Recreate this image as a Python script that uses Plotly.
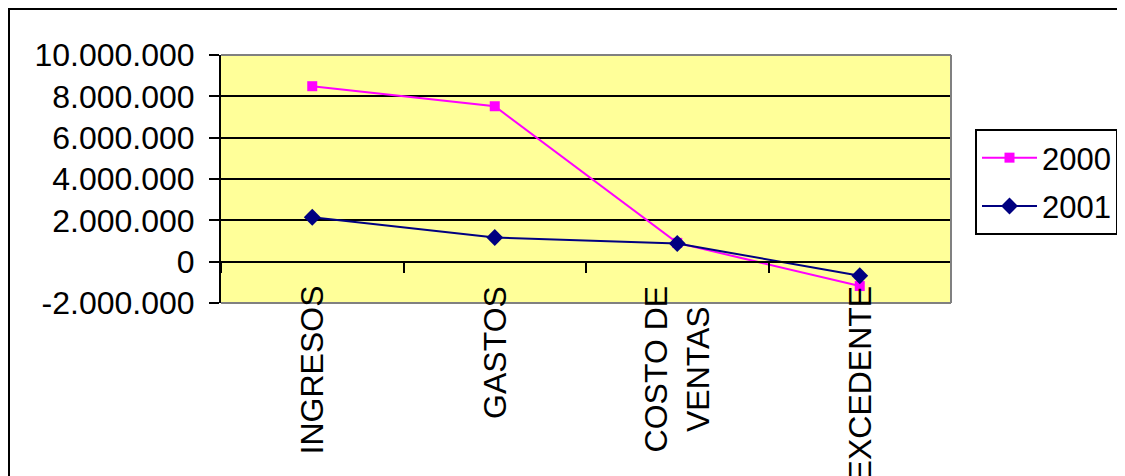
import plotly.graph_objects as go

categories = ["INGRESOS", "GASTOS", "COSTO DE VENTAS", "EXCEDENTE"]
category_labels = ["INGRESOS", "GASTOS", "COSTO DE<br>VENTAS", "EXCEDENTE"]
values_2000 = [8490000, 7520000, 910000, -1180000]
values_2001 = [2150000, 1170000, 880000, -680000]
y_tickvals = [-2000000, 0, 2000000, 4000000, 6000000, 8000000, 10000000]
y_ticktext = ["-2.000.000", "0", "2.000.000", "4.000.000", "6.000.000", "8.000.000", "10.000.000"]

OFF = 8  # page body margin
W, H = 1125 - OFF + 60, 476 - OFF
L, R, T, B = 221 - OFF, 951 - OFF, 55 - OFF, 303 - OFF
FONT = "Liberation Sans, Arial, sans-serif"

def px(x):
    return (x - OFF - L) / (R - L)

def py(y):
    return (B - (y - OFF)) / (B - T)

fig = go.Figure()
fig.add_trace(go.Scatter(
    x=categories, y=values_2000, name="2000", mode="lines+markers",
    line=dict(color="#FF00FF", width=2),
    marker=dict(symbol="square", size=10, color="#FF00FF"),
    legendgroup="a",
))
fig.add_trace(go.Scatter(
    x=categories, y=values_2001, name="2001", mode="lines+markers",
    line=dict(color="#000080", width=2),
    marker=dict(symbol="diamond", size=13, color="#000080"),
    legendgroup="b",
))

ymin, ymax = y_tickvals[0], y_tickvals[-1]
zero_pos = (0 - ymin) / (ymax - ymin)

fig.update_layout(
    width=W, height=H,
    margin=dict(l=L, r=W - R, t=T, b=H - B, pad=0, autoexpand=False),
    paper_bgcolor="white",
    plot_bgcolor="#FFFF99",
    font=dict(family=FONT, size=32, color="black"),
    showlegend=True,
    legend=dict(
        x=px(975), y=py(129), xanchor="left", yanchor="top",
        bordercolor="black", borderwidth=2, bgcolor="white",
        font=dict(family=FONT, size=31, color="black"),
        tracegroupgap=5, itemwidth=55, entrywidth=110, entrywidthmode="pixels",
    ),
    xaxis=dict(
        type="category", range=[-0.5, 3.5],
        anchor="free", position=zero_pos,
        showline=True, linecolor="black", linewidth=2,
        showgrid=False, zeroline=False,
        ticks="outside", tickson="boundaries", ticklen=10, tickwidth=2, tickcolor="black",
        showticklabels=False,
    ),
    yaxis=dict(
        range=[ymin, ymax],
        tickvals=y_tickvals, ticktext=y_ticktext,
        showline=True, linecolor="black", linewidth=2,
        showgrid=True, gridcolor="black", gridwidth=2,
        zeroline=False,
        ticks="outside", ticklen=10, tickwidth=2, tickcolor="black",
        ticklabelstandoff=8,
        tickfont=dict(family=FONT, size=32, color="black"),
    ),
)

for c, lab in zip(categories, category_labels):
    fig.add_annotation(
        x=c, y=0, xref="x", yref="y", text=lab, showarrow=False,
        textangle=-90, xanchor="center", yanchor="top", yshift=-22,
        align="center", font=dict(family=FONT, size=32, color="black"),
    )

grey = dict(color="#808080", width=2)
fig.add_shape(type="line", xref="paper", yref="paper", x0=0, x1=1, y0=1, y1=1, line=grey)
fig.add_shape(type="line", xref="paper", yref="paper", x0=1, x1=1, y0=0, y1=1, line=grey)
fig.add_shape(type="line", xref="paper", yref="paper", x0=0, x1=1, y0=0, y1=0, line=grey)
fig.add_shape(type="rect", xref="paper", yref="paper",
              x0=px(9), x1=px(1180), y0=py(9), y1=py(520),
              line=dict(color="black", width=2), fillcolor="rgba(0,0,0,0)")

fig.write_html("out.html")
